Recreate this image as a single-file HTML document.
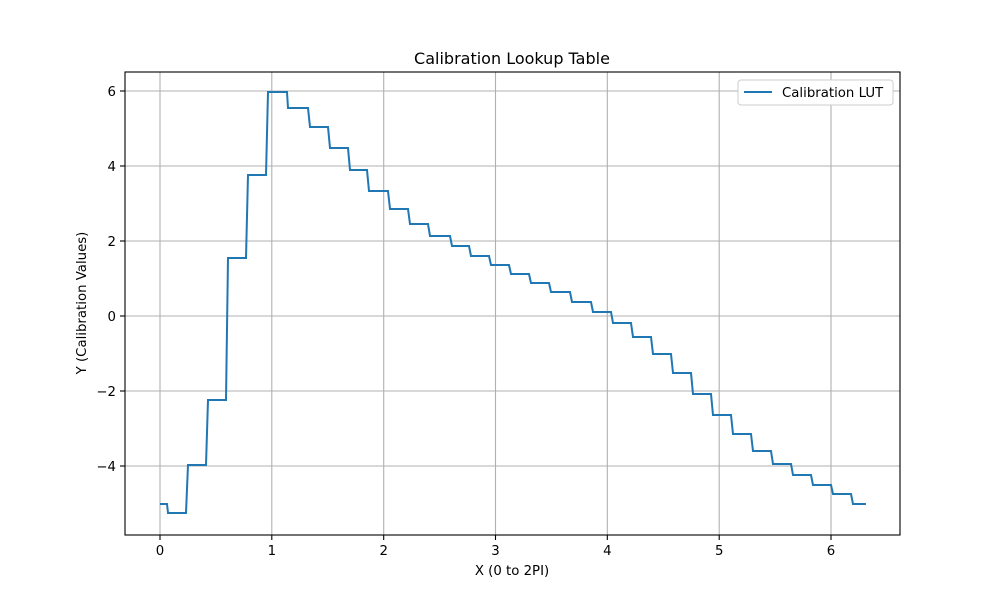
<!DOCTYPE html>
<html><head><meta charset="utf-8"><style>body{margin:0;background:#fff}svg text{font-family:"DejaVu Sans","Liberation Sans",sans-serif;fill:#000}</style></head>
<body>
<svg width="1000" height="600" xmlns="http://www.w3.org/2000/svg">
<g stroke="#b0b0b0" stroke-width="1.1">
<line x1="160" y1="72" x2="160" y2="535"/><line x1="271.8" y1="72" x2="271.8" y2="535"/><line x1="383.7" y1="72" x2="383.7" y2="535"/><line x1="495.5" y1="72" x2="495.5" y2="535"/><line x1="607.3" y1="72" x2="607.3" y2="535"/><line x1="719.2" y1="72" x2="719.2" y2="535"/><line x1="831" y1="72" x2="831" y2="535"/>
<line x1="125" y1="91" x2="900" y2="91"/><line x1="125" y1="166" x2="900" y2="166"/><line x1="125" y1="241" x2="900" y2="241"/><line x1="125" y1="316" x2="900" y2="316"/><line x1="125" y1="391" x2="900" y2="391"/><line x1="125" y1="466" x2="900" y2="466"/>
</g>
<polyline fill="none" stroke="#1f77b4" stroke-width="2" points="160,504 167,504 168,513 186,513 188,465 206,465 208,400 226,400 228,258 246,258 248,175 266,175 268,92 287,92 288,108 308,108 310,127 328,127 330,148 348,148 350,170 367,170 369,191 388,191 390,209 408,209 410,224 428,224 430,236 450,236 452,246 469,246 471,256 489,256 491,265 509,265 511,274 529,274 531,283 549,283 551,292 570,292 572,302 591,302 593,312 611,312 613,323 631,323 633,337 651,337 653,354 671,354 673,373 691,373 693,394 711,394 713,415 731,415 733,434 751,434 753,451 771,451 773,464 791,464 793,475 811,475 813,485 831,485 833,494 851,494 853,504 866,504"/>
<rect x="125" y="72" width="775" height="463" fill="none" stroke="#000" stroke-width="1.1"/>
<g stroke="#000" stroke-width="1.1">
<line x1="160" y1="535" x2="160" y2="540"/><line x1="271.8" y1="535" x2="271.8" y2="540"/><line x1="383.7" y1="535" x2="383.7" y2="540"/><line x1="495.5" y1="535" x2="495.5" y2="540"/><line x1="607.3" y1="535" x2="607.3" y2="540"/><line x1="719.2" y1="535" x2="719.2" y2="540"/><line x1="831" y1="535" x2="831" y2="540"/>
<line x1="120" y1="91" x2="125" y2="91"/><line x1="120" y1="166" x2="125" y2="166"/><line x1="120" y1="241" x2="125" y2="241"/><line x1="120" y1="316" x2="125" y2="316"/><line x1="120" y1="391" x2="125" y2="391"/><line x1="120" y1="466" x2="125" y2="466"/>
</g>
<g font-size="13.3" text-anchor="middle">
<text x="160" y="555">0</text><text x="271.8" y="555">1</text><text x="383.7" y="555">2</text><text x="495.5" y="555">3</text><text x="607.3" y="555">4</text><text x="719.2" y="555">5</text><text x="831" y="555">6</text>
</g>
<g font-size="13.3" text-anchor="end">
<text x="116" y="96">6</text><text x="116" y="171">4</text><text x="116" y="246">2</text><text x="116" y="321">0</text><text x="116" y="396">−2</text><text x="116" y="471">−4</text>
</g>
<text x="512" y="575" font-size="13.3" text-anchor="middle">X (0 to 2PI)</text>
<text x="0" y="0" font-size="13.3" text-anchor="middle" transform="translate(86,303) rotate(-90)">Y (Calibration Values)</text>
<text x="512" y="64" font-size="16" text-anchor="middle">Calibration Lookup Table</text>
<rect x="738" y="80" width="155" height="25" rx="3" fill="#fff" stroke="#ccc" stroke-width="1"/>
<line x1="744" y1="92" x2="772" y2="92" stroke="#1f77b4" stroke-width="2"/>
<text x="782" y="97" font-size="13.3">Calibration LUT</text>
</svg>
</body></html>
